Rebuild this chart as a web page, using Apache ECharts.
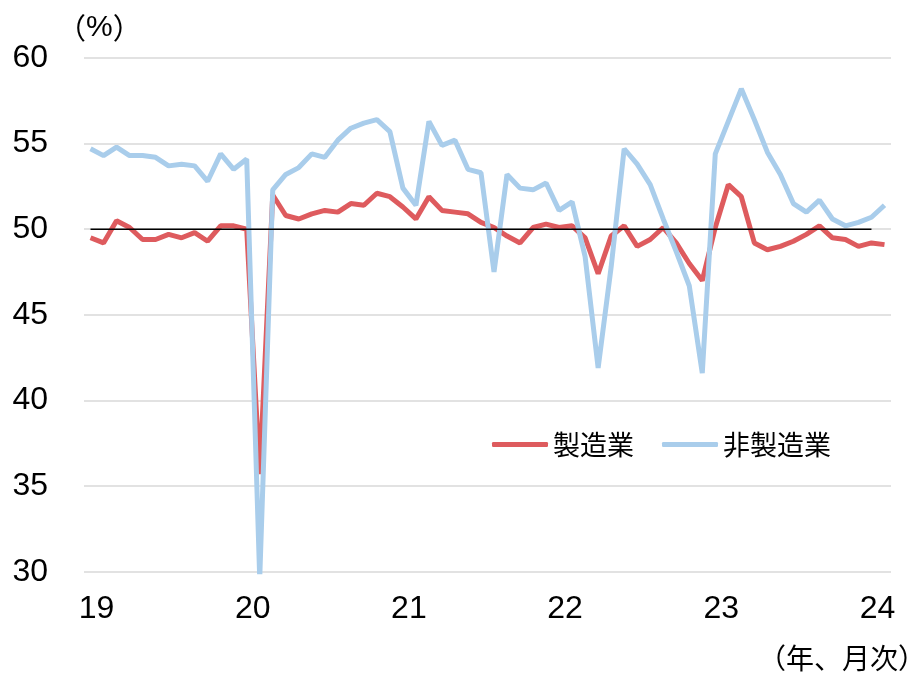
<!DOCTYPE html>
<html>
<head>
<meta charset="utf-8">
<script src="https://cdn.jsdelivr.net/npm/echarts@6/dist/echarts.min.js"></script>
<style>
html,body{margin:0;padding:0;background:#fff;}
#chart{width:916px;height:677px;}
</style>
</head>
<body>
<div id="chart"></div>
<script>
const months = [
 '2019/01','2019/02','2019/03','2019/04','2019/05','2019/06','2019/07','2019/08','2019/09','2019/10','2019/11','2019/12',
 '2020/01','2020/02','2020/03','2020/04','2020/05','2020/06','2020/07','2020/08','2020/09','2020/10','2020/11','2020/12',
 '2021/01','2021/02','2021/03','2021/04','2021/05','2021/06','2021/07','2021/08','2021/09','2021/10','2021/11','2021/12',
 '2022/01','2022/02','2022/03','2022/04','2022/05','2022/06','2022/07','2022/08','2022/09','2022/10','2022/11','2022/12',
 '2023/01','2023/02','2023/03','2023/04','2023/05','2023/06','2023/07','2023/08','2023/09','2023/10','2023/11','2023/12',
 '2024/01','2024/02'
];
const yearLabels = ['19','20','21','22','23','24'];

const manufacturing = [
 49.5,49.2,50.5,50.1,49.4,49.4,49.7,49.5,49.8,49.3,50.2,50.2,
 50.0,35.7,52.0,50.8,50.6,50.9,51.1,51.0,51.5,51.4,52.1,51.9,
 51.3,50.6,51.9,51.1,51.0,50.9,50.4,50.1,49.6,49.2,50.1,50.3,
 50.1,50.2,49.5,47.4,49.6,50.2,49.0,49.4,50.1,49.2,48.0,47.0,
 50.1,52.6,51.9,49.2,48.8,49.0,49.3,49.7,50.2,49.5,49.4,49.0,
 49.2,49.1
];
const nonManufacturing = [
 54.7,54.3,54.8,54.3,54.3,54.2,53.7,53.8,53.7,52.8,54.4,53.5,
 54.1,29.6,52.3,53.2,53.6,54.4,54.2,55.2,55.9,56.2,56.4,55.7,
 52.4,51.4,56.3,54.9,55.2,53.5,53.3,47.5,53.2,52.4,52.3,52.7,
 51.1,51.6,48.4,41.9,47.8,54.7,53.8,52.6,50.6,48.7,46.7,41.6,
 54.4,56.3,58.2,56.4,54.5,53.2,51.5,51.0,51.7,50.6,50.2,50.4,
 50.7,51.4
];
const threshold = [
 50,50,50,50,50,50,50,50,50,50,50,50,
 50,50,50,50,50,50,50,50,50,50,50,50,
 50,50,50,50,50,50,50,50,50,50,50,50,
 50,50,50,50,50,50,50,50,50,50,50,50,
 50,50,50,50,50,50,50,50,50,50,50,50,
 50
];
const yTicks = {min: 30, max: 60, interval: 5};

const RED = '#DE5B5E';
const BLUE = '#A9CDEB';
const NUM_FONT = '"Liberation Sans", Arial, sans-serif';
const CJK_FONT = '"Noto Sans CJK JP", "Noto Sans", sans-serif';

const chart = echarts.init(document.getElementById('chart'), null, {renderer: 'canvas'});
chart.setOption({
  animation: false,
  backgroundColor: '#ffffff',
  grid: {left: 84, right: 25, top: 58, bottom: 105.3, containLabel: false},
  legend: {
    left: 492, top: 431, padding: 0,
    itemWidth: 56, itemHeight: 5, itemGap: 28,
    icon: 'roundRect',
    textStyle: {fontFamily: CJK_FONT, fontSize: 27, color: '#000'},
    data: ['製造業', '非製造業']
  },
  xAxis: {
    type: 'category',
    data: months,
    boundaryGap: true,
    axisLine: {show: false},
    axisTick: {show: false},
    splitLine: {show: false},
    axisLabel: {
      interval: function (index) { return index % 12 === 0; },
      formatter: function (value, index) { return yearLabels[Math.floor(index / 12)]; },
      fontFamily: NUM_FONT, fontSize: 32, color: '#000',
      margin: 21, padding: [0, 0, 0, 12]
    }
  },
  yAxis: {
    type: 'value',
    min: yTicks.min, max: yTicks.max, interval: yTicks.interval,
    axisLine: {show: false},
    axisTick: {show: false},
    splitLine: {lineStyle: {color: '#D9D9D9', width: 1.5}},
    axisLabel: {fontFamily: NUM_FONT, fontSize: 32, color: '#000', margin: 36}
  },
  graphic: [
    {type: 'text', x: 0, y: 0, style: {x: 57, y: 28, text: '{p|（}{n|%}{p|）}',
      align: 'left', verticalAlign: 'middle', fill: '#000',
      rich: {
        p: {fontSize: 29, fontFamily: CJK_FONT, fill: '#000'},
        n: {fontSize: 30, fontFamily: NUM_FONT, fill: '#000'}
      }}},
    {type: 'text', x: 0, y: 0, style: {x: 926, y: 658, text: '（年、月次）', fontSize: 28, fontFamily: CJK_FONT,
      fill: '#000', align: 'right', verticalAlign: 'middle'}}
  ],
  series: [
    {name: '製造業', type: 'line', data: manufacturing, showSymbol: false, symbol: 'none',
     lineStyle: {color: RED, width: 5}, itemStyle: {color: RED}, z: 2},
    {name: '非製造業', type: 'line', data: nonManufacturing, showSymbol: false, symbol: 'none',
     lineStyle: {color: BLUE, width: 5}, itemStyle: {color: BLUE}, z: 3},
    {name: '50', type: 'line', data: threshold, showSymbol: false, symbol: 'none',
     lineStyle: {color: '#000', width: 1.5}, itemStyle: {color: '#000'}, z: 4, silent: true}
  ]
});
</script>
</body>
</html>
